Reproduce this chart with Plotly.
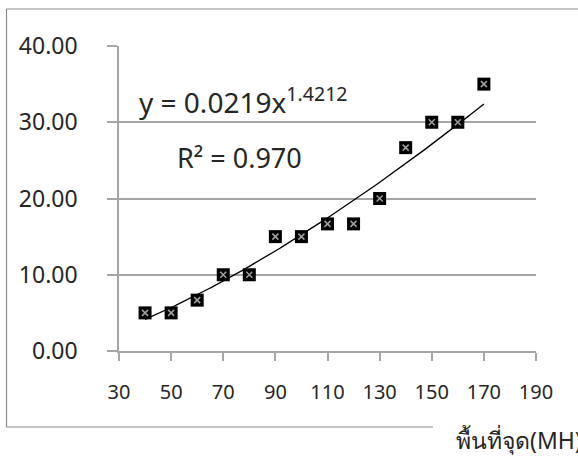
import numpy as np
import plotly.graph_objects as go

# Observed points
area_mh = [40, 50, 60, 70, 80, 90, 100, 110, 120, 130, 140, 150, 160, 170]
value = [5.00, 5.00, 6.67, 10.00, 10.00, 15.00, 15.00, 16.67, 16.67, 20.00, 26.67, 30.00, 30.00, 35.00]

# Power trend line y = a * x^b
coef_a = 0.0219
coef_b = 1.4212
r_squared = 0.970

x_ticks = [30, 50, 70, 90, 110, 130, 150, 170, 190]
y_ticks = [0, 10, 20, 30, 40]

W, H = 578, 461
ML, MR, MT, MB = 119, 42, 46, 110
PW, PH = W - ML - MR, H - MT - MB


def px(x):
    return (x - ML) / PW


def py(y):
    return (H - MB - y) / PH


trend_x = np.linspace(min(area_mh), max(area_mh), 200)
trend_y = coef_a * trend_x ** coef_b

GRID = "#a6a6a6"
TXT = "#262626"
FONT = "Noto Sans, DejaVu Sans, sans-serif"

fig = go.Figure()
fig.add_trace(go.Scatter(
    x=trend_x, y=trend_y, mode="lines",
    line=dict(color="black", width=1.3), hoverinfo="skip", showlegend=False,
))
fig.add_trace(go.Scatter(
    x=area_mh, y=value, mode="markers",
    marker=dict(symbol="square", size=13, color="black", line=dict(width=0)),
    showlegend=False,
))
fig.add_trace(go.Scatter(
    x=area_mh, y=value, mode="markers",
    marker=dict(symbol="x-thin", size=6, line=dict(color="#a0a0a0", width=1.5)),
    hoverinfo="skip", showlegend=False,
))

fig.update_layout(
    width=W, height=H,
    margin=dict(l=ML, r=MR, t=MT, b=MB, pad=0),
    paper_bgcolor="white", plot_bgcolor="white",
    font=dict(family=FONT, color=TXT),
    xaxis=dict(
        range=[30, 190], tickvals=x_ticks, showgrid=False, zeroline=False,
        showline=True, linecolor=GRID, linewidth=1.5,
        ticks="outside", ticklen=8, tickcolor=GRID, tickwidth=1.5,
        tickfont=dict(size=20, family=FONT, color=TXT),
        ticklabelstandoff=14,
    ),
    yaxis=dict(
        range=[0, 40], tickvals=y_ticks, tickformat=".2f",
        showgrid=True, gridcolor=GRID, gridwidth=1.5, zeroline=False,
        showline=True, linecolor=GRID, linewidth=1.5,
        ticks="outside", ticklen=10, tickcolor=GRID, tickwidth=1.5,
        tickfont=dict(size=23, family=FONT, color=TXT),
        ticklabelstandoff=25,
    ),
)

# Chart frame (top, left, bottom)
frame = dict(color="#8c8c8c", width=1.2)
fig.add_shape(type="line", xref="paper", yref="paper",
              x0=px(6.5), x1=px(600), y0=py(9), y1=py(9), line=frame)
fig.add_shape(type="line", xref="paper", yref="paper",
              x0=px(6.5), x1=px(6.5), y0=py(9), y1=py(427), line=frame)
fig.add_shape(type="line", xref="paper", yref="paper",
              x0=px(6.5), x1=px(433), y0=py(427), y1=py(427), line=frame)

fig.add_annotation(
    xref="paper", yref="paper", x=px(137), y=py(100),
    xanchor="left", yanchor="middle", showarrow=False,
    text=f"y = {coef_a:.4f}x<sup>{coef_b:.4f}</sup>",
    font=dict(size=28, family=FONT, color=TXT),
)
fig.add_annotation(
    xref="paper", yref="paper", x=px(175), y=py(157),
    xanchor="left", yanchor="middle", showarrow=False,
    text=f"R² = {r_squared:.3f}",
    font=dict(size=27, family=FONT, color=TXT),
)
fig.add_annotation(
    xref="paper", yref="paper", x=px(454), y=py(440),
    xanchor="left", yanchor="middle", showarrow=False,
    text="พื้นที่จุด(MH)",
    font=dict(size=23, family=FONT, color=TXT),
)

fig.write_html("out.html")
